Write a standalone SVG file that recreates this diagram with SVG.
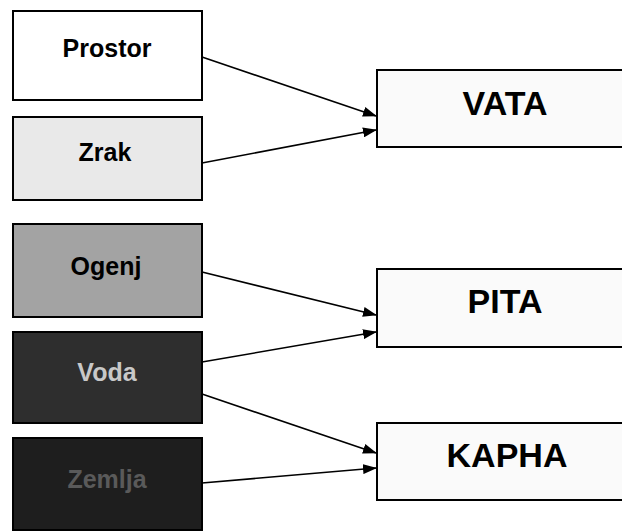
<svg xmlns="http://www.w3.org/2000/svg" width="622" height="531" viewBox="0 0 622 531">
<defs>
<marker id="ah" markerWidth="14" markerHeight="10" refX="13" refY="5" orient="auto" markerUnits="userSpaceOnUse">
<path d="M0,0 L14,5 L0,10 Z" fill="#000"/>
</marker>
</defs>
<style>
.box{stroke:#000;stroke-width:2}
.lt{font-family:"Liberation Sans",Arial,sans-serif;font-weight:bold;font-size:25px;text-anchor:middle}
.rt{font-family:"Liberation Sans",Arial,sans-serif;font-weight:bold;font-size:34px;text-anchor:middle;fill:#000}
.conn{stroke:#000;stroke-width:1.6;fill:none;marker-end:url(#ah)}
</style>
<rect width="622" height="531" fill="#fff"/>
<g id="prostor"><rect class="box" x="13" y="11" width="189" height="89" fill="#ffffff"/><text class="lt" x="107" y="57" fill="#000">Prostor</text></g>
<g id="zrak"><rect class="box" x="13" y="117" width="189" height="83" fill="#e9e9e9"/><text class="lt" x="105" y="161" fill="#000">Zrak</text></g>
<g id="ogenj"><rect class="box" x="13" y="224" width="189" height="93" fill="#a3a3a3"/><text class="lt" x="106" y="275" fill="#000">Ogenj</text></g>
<g id="voda"><rect class="box" x="13" y="332" width="189" height="91" fill="#2e2e2e"/><text class="lt" x="107" y="381" fill="#c8c8c8">Voda</text></g>
<g id="zemlja"><rect class="box" x="13" y="438" width="189" height="92" fill="#1e1e1e"/><text class="lt" x="107" y="488" fill="#5a5a5a">Zemlja</text></g>
<g id="vata"><rect class="box" x="377" y="70" width="270" height="77" fill="#fafafa"/><text class="rt" x="505" y="115">VATA</text></g>
<g id="pita"><rect class="box" x="377" y="269" width="270" height="78" fill="#fafafa"/><text class="rt" x="505" y="313">PITA</text></g>
<g id="kapha"><rect class="box" x="377" y="423" width="270" height="77" fill="#fafafa"/><text class="rt" x="507" y="467">KAPHA</text></g>
<g id="connectors">
<line class="conn" x1="202" y1="57" x2="376" y2="116"/>
<line class="conn" x1="202" y1="163" x2="376" y2="130"/>
<line class="conn" x1="202" y1="272" x2="376" y2="315"/>
<line class="conn" x1="202" y1="362" x2="376" y2="332"/>
<line class="conn" x1="202" y1="394" x2="376" y2="453"/>
<line class="conn" x1="202" y1="483" x2="376" y2="468"/>
</g>
</svg>
